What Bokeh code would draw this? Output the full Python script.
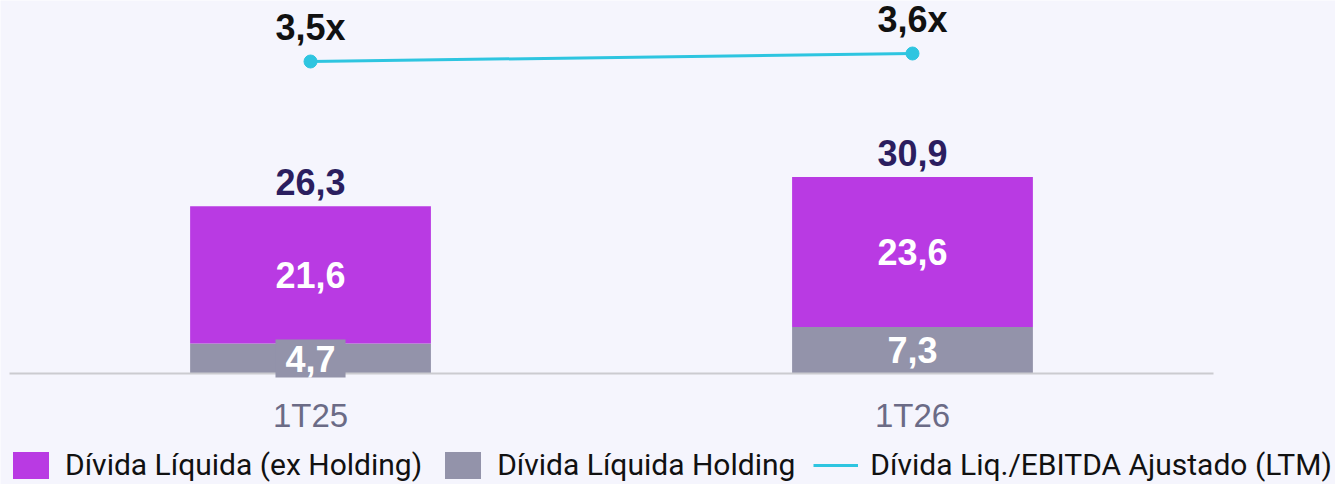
from bokeh.plotting import figure
from bokeh.models import ColumnDataSource, Range1d, Legend, LegendItem, FixedTicker
from bokeh.core.properties import value
from bokeh.embed import file_html
from bokeh.resources import INLINE

# ---- data ----
categories = ["1T25", "1T26"]
holding = [4.7, 7.3]
ex_holding = [21.6, 23.6]
totals = [26.3, 30.9]
ratio = [3.5, 3.6]


def fmt(v, suffix=""):
    return f"{v:.1f}".replace(".", ",") + suffix


BG = "#F5F5FD"
MAGENTA = "#B93AE3"
GRAY = "#9393AA"
CYAN = "#2EC5E0"
NAVY = "#2B1E5F"

idx = list(range(len(categories)))

src = ColumnDataSource(dict(
    x=idx,
    holding=holding,
    ex=ex_holding,
    total=totals,
    ratio=ratio,
    hold_mid=[h / 2 for h in holding],
    ex_mid=[h + e / 2 for h, e in zip(holding, ex_holding)],
    hold_lbl=[fmt(v) for v in holding],
    ex_lbl=[fmt(v) for v in ex_holding],
    tot_lbl=[fmt(v) for v in totals],
    ratio_lbl=[fmt(v, "x") for v in ratio],
))

p = figure(
    x_range=Range1d(-0.515, 1.7027),
    y_range=Range1d(-17.45, 58.65),
    width=1335, height=484,
    min_border_left=0, min_border_right=0, min_border_top=0, min_border_bottom=0,
    output_backend="svg", toolbar_location=None,
    y_axis_location=None,
    background_fill_color=BG, border_fill_color=BG,
)
p.outline_line_color = None
p.xgrid.visible = False
p.ygrid.visible = False
p.extra_y_ranges = {"ratio": Range1d(-1.7875, 4.2625)}

bars = p.vbar_stack(["holding", "ex"], x="x", width=0.4, source=src,
                    color=[GRAY, MAGENTA], line_color=None)

line = p.line(x="x", y="ratio", source=src, y_range_name="ratio",
              line_color=CYAN, line_width=3)
p.scatter(x="x", y="ratio", source=src, y_range_name="ratio",
          size=13, fill_color=CYAN, line_color=CYAN)

FONT = "Liberation Sans"
BOLD_SIZE = "36px"

# labels inside bars
p.text(x="x", y="ex_mid", text="ex_lbl", source=src,
       text_align="center", text_baseline="middle",
       text_font=value(FONT), text_font_style="bold", text_font_size=BOLD_SIZE,
       text_color="white")

# holding labels (first one sits on a small box that overlaps the bar edge)
hold_box_src = ColumnDataSource(dict(x=idx[:1], y=[holding[0] / 2],
                                     t=[fmt(holding[0])]))
r_box = p.text(x="x", y="y", text="t", source=hold_box_src,
               text_align="center", text_baseline="middle",
               text_font=value(FONT), text_font_style="bold", text_font_size=BOLD_SIZE,
               text_color="white", background_fill_color=GRAY,
               border_line_color=None, padding=(10, 6))
r_box.level = "annotation"
hold_src2 = ColumnDataSource(dict(x=idx[1:], y=[holding[1] / 2],
                                  t=[fmt(holding[1])]))
p.text(x="x", y="y", text="t", source=hold_src2,
       text_align="center", text_baseline="middle",
       text_font=value(FONT), text_font_style="bold", text_font_size=BOLD_SIZE,
       text_color="white")

# totals
p.text(x="x", y="total", text="tot_lbl", source=src,
       text_align="center", text_baseline="middle", y_offset=-24,
       text_font=value(FONT), text_font_style="bold", text_font_size=BOLD_SIZE,
       text_color=NAVY)

# ratio labels
p.text(x="x", y="ratio", text="ratio_lbl", source=src, y_range_name="ratio",
       text_align="center", text_baseline="middle", y_offset=-34,
       text_font=value(FONT), text_font_style="bold", text_font_size=BOLD_SIZE,
       text_color="#111111")

# x axis, drawn at the zero line
ax = p.xaxis[0]
ax.fixed_location = 0
ax.bounds = (idx[0] - 0.5, idx[-1] + 0.5)
ax.ticker = FixedTicker(ticks=idx)
ax.major_label_overrides = {i: c for i, c in zip(idx, categories)}
ax.axis_line_color = "#CBCBD0"
ax.axis_line_width = 2
ax.major_tick_line_color = None
ax.minor_tick_line_color = None
ax.major_tick_out = 0
ax.major_tick_in = 0
ax.major_label_standoff = 23
ax.major_label_text_font = FONT
ax.major_label_text_font_size = "33px"
ax.major_label_text_color = "#6B6B86"

legend = Legend(items=[
    LegendItem(label="Dívida Líquida (ex Holding)", renderers=[bars[1]]),
    LegendItem(label="Dívida Líquida Holding", renderers=[bars[0]]),
    LegendItem(label="Dívida Liq./EBITDA Ajustado (LTM)", renderers=[line]),
], orientation="horizontal", location=(8, 2))
legend.glyph_width = 45
legend.glyph_height = 34
legend.label_standoff = 12
legend.spacing = 18
legend.padding = 0
legend.margin = 0
legend.label_text_font = "Roboto"
legend.label_text_font_size = "30px"
legend.label_text_color = "#111111"
legend.border_line_color = None
legend.background_fill_alpha = 0
p.add_layout(legend, "center")

open("out.html", "w").write(file_html(p, INLINE))
